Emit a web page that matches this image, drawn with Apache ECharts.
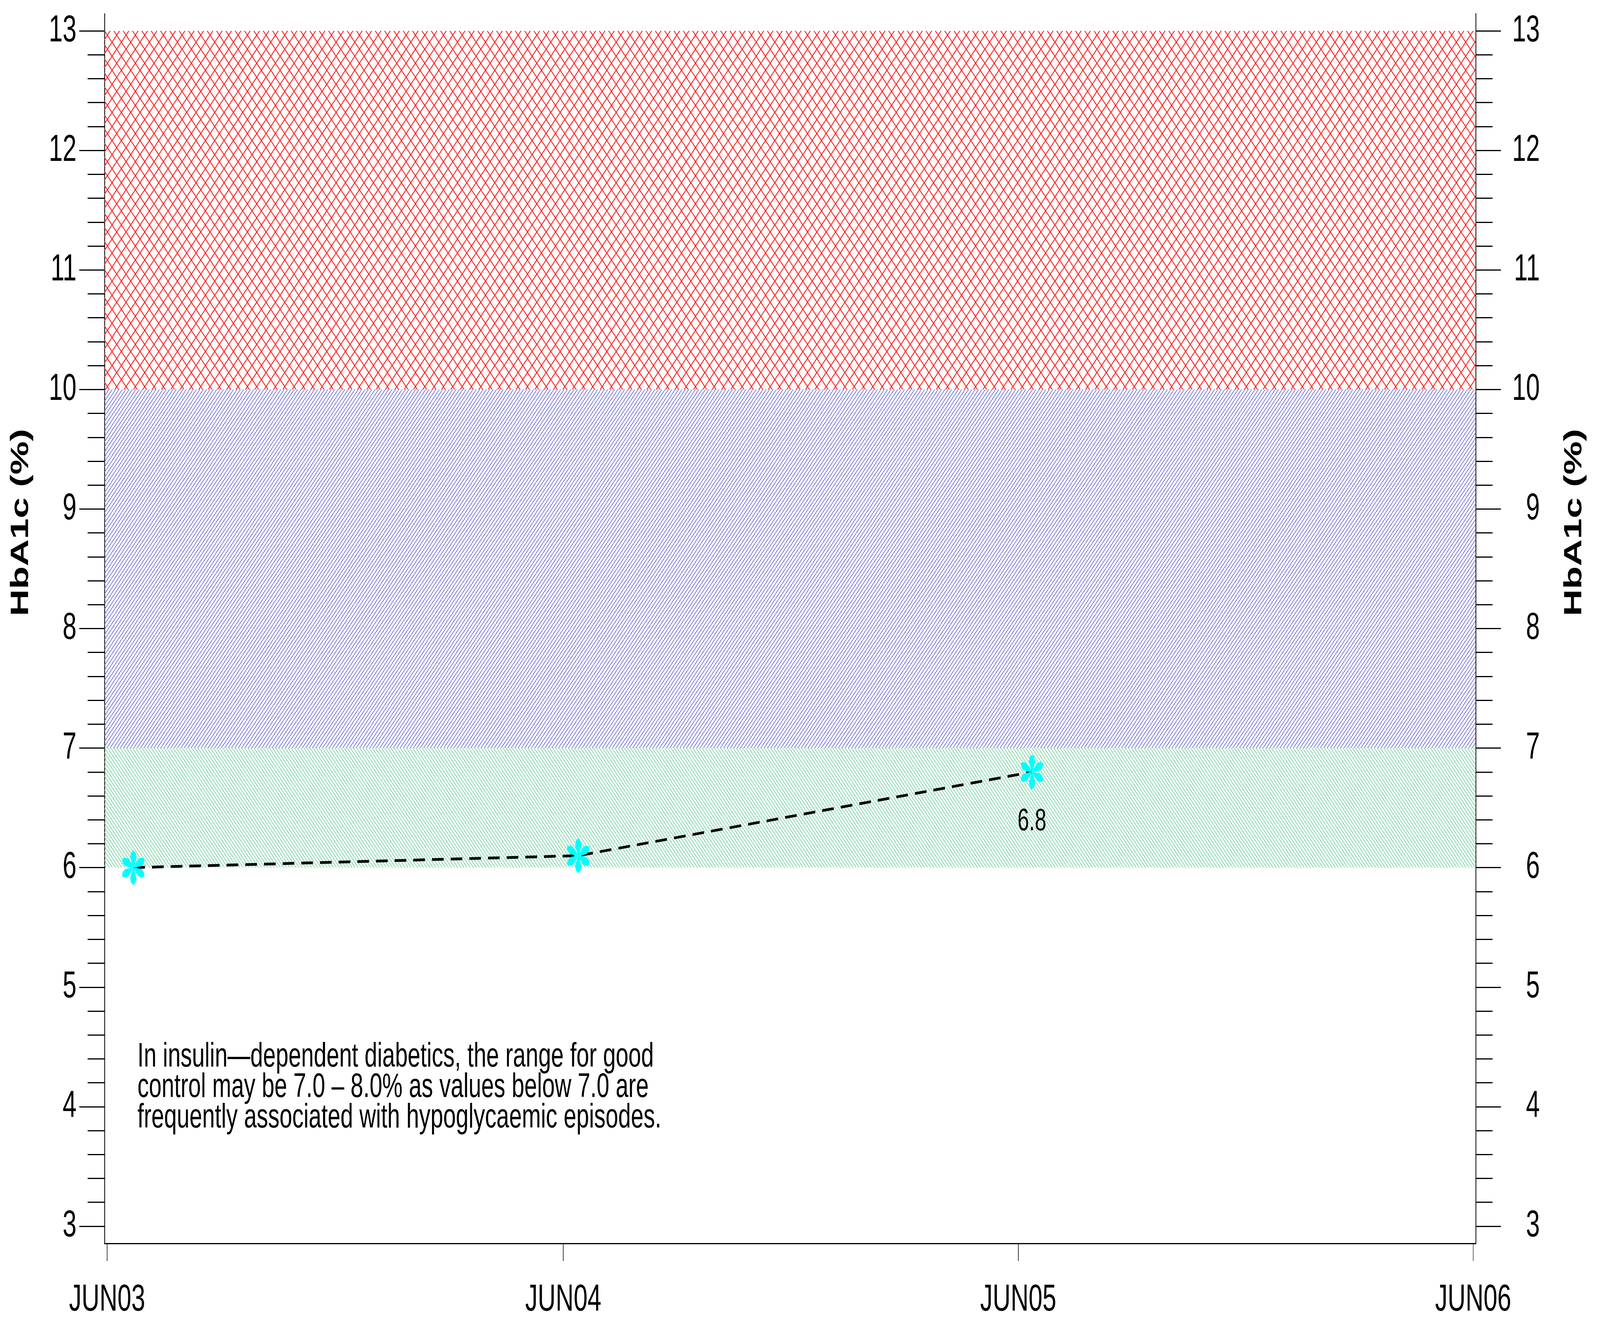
<!DOCTYPE html>
<html><head><meta charset="utf-8">
<script src="https://cdn.jsdelivr.net/npm/echarts@6/dist/echarts.min.js"></script>
<style>html,body{margin:0;padding:0;background:#fff;overflow:hidden}
#c{width:6170px;height:3398px;position:absolute;left:0;top:0;transform-origin:0 0}</style>
</head><body><div id="c"></div>
<script>
// ---- data ----
const dates = ['2003-06-22', '2004-06-13', '2005-06-12'];
const hba1c = [6.0, 6.1, 6.8];
const xTickDates = ['2003-06-01', '2004-06-01', '2005-06-01', '2006-06-01'];
const xTickLabels = ['JUN03', 'JUN04', 'JUN05', 'JUN06'];
const yTickValues = [3, 4, 5, 6, 7, 8, 9, 10, 11, 12, 13];
const bandLow = [10, 7, 6];
const bandHigh = [13, 10, 7];
const annotationLines = [
  'In insulin\u2014dependent diabetics, the range for good',
  'control may be 7.0 \u2013 8.0% as values below 7.0 are',
  'frequently associated with hypoglycaemic episodes.'
];
const yTitle = 'HbA1c (%)';

// ---- fit the 6170x3398 drawing into whatever window we get ----
const W0 = 6170, H0 = 3398;
const host = document.getElementById('c');
const sx = (window.innerWidth || W0) / W0, sy = (window.innerHeight || H0) / H0;
if (Math.abs(sx - 1) > 1e-3 || Math.abs(sy - 1) > 1e-3) host.style.transform = 'scale(' + sx + ',' + sy + ')';

// ---- helpers ----
const FONT = "'Liberation Sans', Arial, Helvetica, sans-serif";
const DAY = 86400000;
const xTickValues = xTickDates.map(d => Date.parse(d));
const xMin = xTickValues[0] - 2.1 * DAY;
const xMax = xTickValues[xTickValues.length - 1] + 2.1 * DAY;
const yMin = 2.856, yMax = 13.144;
const yMinorTicks = [];
for (let i = 15; i <= 65; i++) if (i % 5 !== 0) yMinorTicks.push(i / 5);

function hatch(size, color, lw, dirs) {
  const c = document.createElement('canvas');
  c.width = size; c.height = size;
  const g = c.getContext('2d');
  g.strokeStyle = color; g.lineWidth = lw;
  g.beginPath();
  for (const k of [-size, 0, size]) {
    if (dirs.includes('/')) { g.moveTo(k, size); g.lineTo(k + size, 0); }
    if (dirs.includes('\\')) { g.moveTo(k, 0); g.lineTo(k + size, size); }
  }
  g.stroke();
  return { image: c, repeat: 'repeat' };
}
const bandFills = [
  hatch(36, '#ff1a1a', 2.8, '/\\'),
  hatch(13, 'rgb(95,95,210)', 2.0, '/'),
  hatch(12, 'rgb(105,205,150)', 2.0, '\\')
];

function asteriskPath() {
  const arm = [[0, 0], [-5, -10], [-12, -30], [-9, -42], [0, -50], [9, -42], [12, -30], [5, -10]];
  let d = '';
  for (let k = 0; k < 6; k++) {
    const a = k * Math.PI / 3, c = Math.cos(a), s = Math.sin(a);
    arm.forEach((p, j) => {
      const x = p[0] * c - p[1] * s + 50, y = p[0] * s + p[1] * c + 50;
      d += (j ? 'L' : 'M') + x.toFixed(2) + ' ' + y.toFixed(2) + ' ';
    });
    d += 'Z ';
  }
  return 'path://' + d;
}

const axisColor = '#000';
function yAx(pos, major) {
  return {
    type: 'value', position: pos, min: yMin, max: yMax,
    axisLine: { show: major, onZero: false, lineStyle: { color: axisColor, width: 3 } },
    axisTick: { show: true, inside: false, length: major ? 97 : 65,
      customValues: major ? yTickValues : yMinorTicks,
      lineStyle: { color: axisColor, width: 3 } },
    axisLabel: { show: major, customValues: yTickValues,
      margin: pos === 'left' ? 108 : 247, align: 'right',
      fontSize: 96, fontFamily: FONT, color: '#000',
      formatter: v => String(Math.round(v)) },
    splitLine: { show: false }
  };
}

const chart = echarts.init(host, null, { renderer: 'canvas', width: W0, height: H0 });
chart.setOption({
  animation: false,
  backgroundColor: '#fff',
  grid: { left: 403, right: 479, top: 35, bottom: 214, containLabel: false, outerBoundsMode: 'none' },
  xAxis: {
    type: 'value', min: xMin, max: xMax,
    axisLine: { show: true, onZero: false, lineStyle: { color: axisColor, width: 3 } },
    axisTick: { show: true, length: 45, customValues: xTickValues, lineStyle: { color: axisColor, width: 2 } },
    axisLabel: { show: true, customValues: xTickValues, margin: 98, fontSize: 96, fontFamily: FONT, color: '#000',
      hideOverlap: false,
      formatter: v => { let bi = 0, bd = Infinity; xTickValues.forEach((t, i) => { const d = Math.abs(t - v); if (d < bd) { bd = d; bi = i; } }); return xTickLabels[bi]; } },
    splitLine: { show: false }
  },
  yAxis: [yAx('left', true), yAx('left', false), yAx('right', true), yAx('right', false)],
  series: [
    {
      type: 'line', data: [], z: 1, silent: true,
      markArea: {
        silent: true,
        data: bandLow.map((lo, i) => [
          { yAxis: lo, itemStyle: { color: bandFills[i], opacity: 1, borderWidth: 0 } },
          { yAxis: bandHigh[i] }
        ])
      }
    },
    {
      type: 'line', z: 5,
      data: dates.map((d, i) => ({
        value: [Date.parse(d), hba1c[i]],
        label: { show: i === hba1c.length - 1 }
      })),
      symbol: asteriskPath(), symbolSize: [87, 90], showAllSymbol: true,
      itemStyle: { color: '#00ffff' },
      lineStyle: { color: '#000', width: 7, type: [45, 27] },
      label: { show: false, position: 'bottom', distance: 42, fontSize: 80, fontFamily: FONT, color: '#000',
        formatter: p => p.value[1].toFixed(1) }
    }
  ],
  graphic: [
    { type: 'text', x: 82, y: 1338, rotation: Math.PI / 2,
      style: { text: yTitle, x: 0, y: 0, textAlign: 'center', textVerticalAlign: 'middle',
        fontSize: 96, fontWeight: 'bold', fontFamily: FONT, fill: '#000' } },
    { type: 'text', x: 6072, y: 1338, rotation: Math.PI / 2,
      style: { text: yTitle, x: 0, y: 0, textAlign: 'center', textVerticalAlign: 'middle',
        fontSize: 96, fontWeight: 'bold', fontFamily: FONT, fill: '#000' } },
    { type: 'text', x: 530, y: 2668,
      style: { text: annotationLines.join('\n'), x: 0, y: 0, textAlign: 'left', textVerticalAlign: 'top',
        fontSize: 88, lineHeight: 78, fontFamily: FONT, fill: '#000' } }
  ]
});
</script></body></html>
